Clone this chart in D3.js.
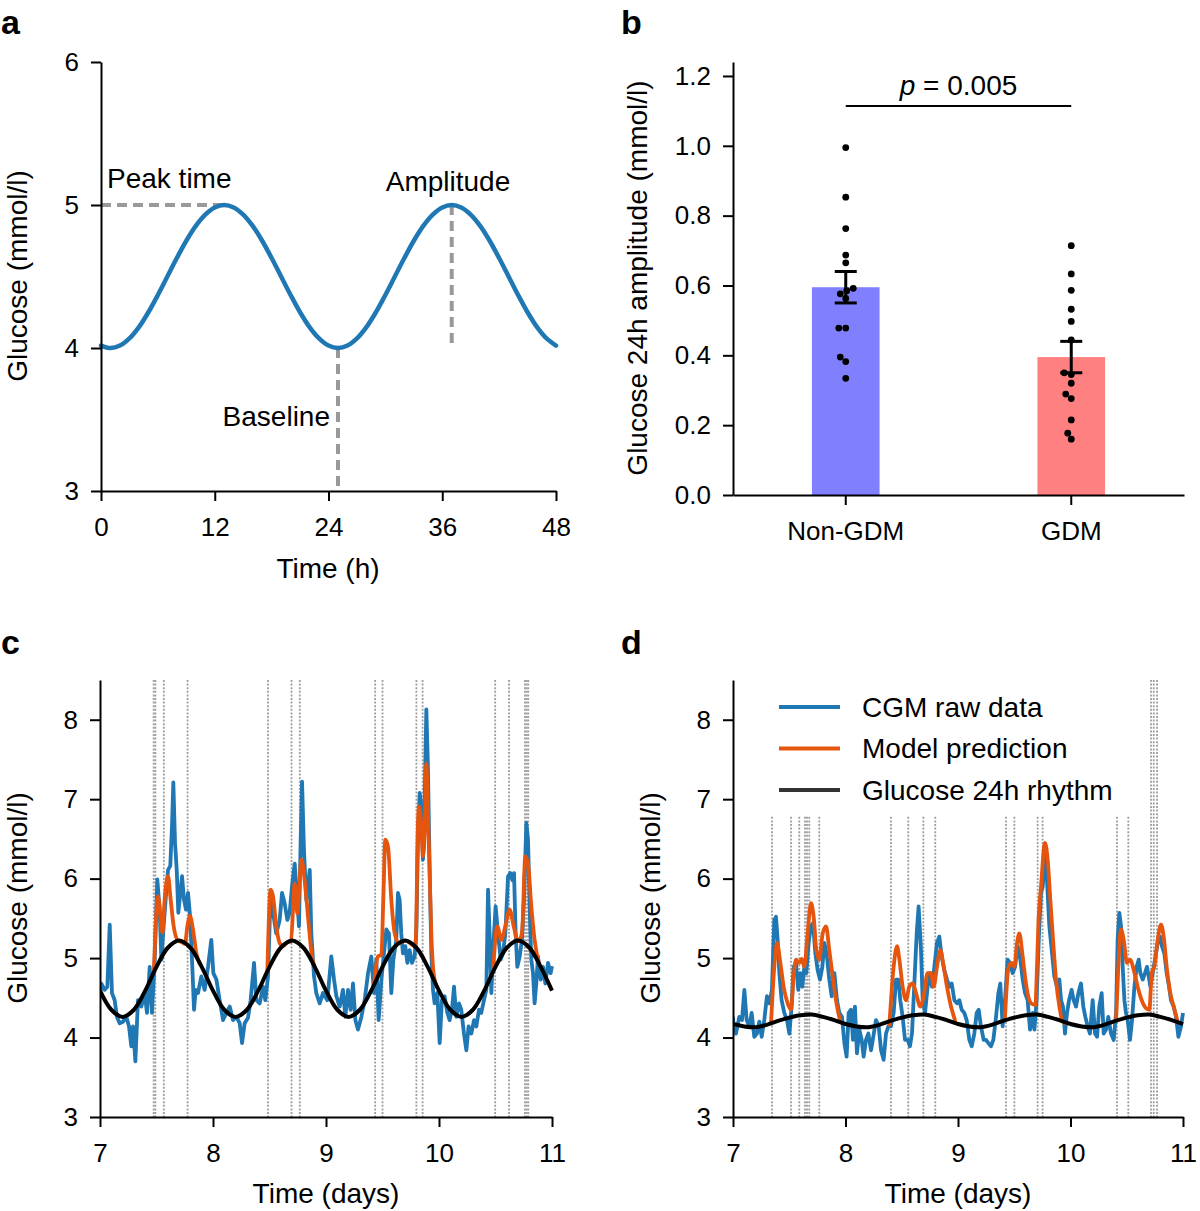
<!DOCTYPE html>
<html><head><meta charset="utf-8">
<script src="https://cdn.jsdelivr.net/npm/d3@7"></script>
<style>
body{margin:0;background:#fff;}
svg text{font-family:"Liberation Sans",Arial,Helvetica,sans-serif;fill:#000;}
</style></head><body>
<svg id="fig" width="1200" height="1211"></svg>
<script>
// ---------- Panel a ----------
const hoursA = [0,1,2,3,4,5,6,7,8,9,10,11,12,13,14,15,16,17,18,19,20,21,22,23,24,25,26,27,28,29,30,31,32,33,34,35,36,37,38,39,40,41,42,43,44,45,46,47,48];
const glucoseA = [4.017,4.000,4.017,4.067,4.146,4.250,4.371,4.500,4.629,4.750,4.854,4.933,4.983,5.000,4.983,4.933,4.854,4.750,4.629,4.500,4.371,4.250,4.146,4.067,4.017,4.000,4.017,4.067,4.146,4.250,4.371,4.500,4.629,4.750,4.854,4.933,4.983,5.000,4.983,4.933,4.854,4.750,4.629,4.500,4.371,4.250,4.146,4.067,4.017];
const ticksAx = [0,12,24,36,48];
const ticksAy = [3,4,5,6];
const peakTime = 13, peakValue = 5, baseTime = 25, baseValue = 4, ampTime = 37;

// ---------- Panel b ----------
const groupsB = ["Non-GDM","GDM"];
const meansB = [0.595, 0.395];
const semB = [0.045, 0.045];
const pointsNonGDM = [0.995,0.853,0.763,0.687,0.665,0.592,0.585,0.576,0.563,0.478,0.478,0.395,0.382,0.334];
const pointsGDM = [0.714,0.633,0.586,0.532,0.497,0.444,0.350,0.345,0.320,0.289,0.276,0.215,0.177,0.160];
const ticksBy = [0.0,0.2,0.4,0.6,0.8,1.0,1.2];
const pBracket = 1.114, pLabel = "0.005";

// ---------- Panels c & d ----------
const ticksDays = [7,8,9,10,11];
const ticksGlu = [3,4,5,6,7,8];
const rhythmTime = [7.0,7.1,7.2,7.3,7.4,7.5,7.6,7.7,7.8,7.9,8.0,8.1,8.2,8.3,8.4,8.5,8.6,8.7,8.8,8.9,9.0,9.1,9.2,9.3,9.4,9.5,9.6,9.7,9.8,9.9,10.0,10.1,10.2,10.3,10.4,10.5,10.6,10.7,10.8,10.9,11.0];
const rhythmC = [4.59,4.35,4.26,4.35,4.59,4.89,5.13,5.22,5.13,4.89,4.59,4.35,4.26,4.35,4.59,4.89,5.13,5.22,5.13,4.89,4.59,4.35,4.26,4.35,4.59,4.89,5.13,5.22,5.13,4.89,4.59,4.35,4.26,4.35,4.59,4.89,5.13,5.22,5.13,4.89,4.59];
const rhythmD = [4.17,4.14,4.13,4.16,4.21,4.25,4.28,4.29,4.26,4.22,4.17,4.14,4.13,4.16,4.21,4.25,4.28,4.29,4.26,4.22,4.17,4.14,4.13,4.16,4.21,4.25,4.28,4.29,4.26,4.22,4.17,4.14,4.13,4.16,4.21,4.25,4.28,4.29,4.26,4.22,4.17];

const cgmC = [[7.000,4.56],[7.012,4.68],[7.041,4.60],[7.065,4.64],[7.086,5.42],[7.106,4.56],[7.130,4.47],[7.150,4.26],[7.174,4.18],[7.204,4.20],[7.233,4.26],[7.257,4.14],[7.277,3.89],[7.292,4.14],[7.313,3.70],[7.336,4.47],[7.366,4.39],[7.395,4.56],[7.416,4.31],[7.440,4.89],[7.460,4.31],[7.484,4.98],[7.507,5.99],[7.528,5.61],[7.543,4.98],[7.563,5.40],[7.581,5.74],[7.602,6.11],[7.622,6.16],[7.637,6.66],[7.649,7.21],[7.664,6.45],[7.679,6.11],[7.693,5.57],[7.711,5.82],[7.726,6.03],[7.743,5.74],[7.761,5.61],[7.779,5.82],[7.797,5.53],[7.817,4.89],[7.832,4.35],[7.847,4.60],[7.867,4.56],[7.897,4.77],[7.926,4.60],[7.956,4.89],[7.985,5.23],[8.003,4.81],[8.030,4.73],[8.059,4.47],[8.089,4.22],[8.118,4.31],[8.148,4.39],[8.177,4.22],[8.207,4.26],[8.236,4.18],[8.257,3.93],[8.280,4.18],[8.310,4.25],[8.333,4.47],[8.363,4.94],[8.384,4.47],[8.413,4.43],[8.443,4.64],[8.463,4.47],[8.487,4.77],[8.510,5.82],[8.531,5.57],[8.560,5.31],[8.590,5.48],[8.611,5.82],[8.634,5.69],[8.658,5.48],[8.678,5.57],[8.699,5.90],[8.723,6.19],[8.746,5.73],[8.761,5.40],[8.776,6.49],[8.788,7.22],[8.805,6.36],[8.826,5.73],[8.841,5.90],[8.856,6.11],[8.870,5.31],[8.894,4.77],[8.914,4.56],[8.944,4.43],[8.973,4.56],[9.012,4.47],[9.047,5.02],[9.071,4.73],[9.092,4.52],[9.121,4.39],[9.150,4.60],[9.171,4.26],[9.195,4.60],[9.218,4.35],[9.239,4.68],[9.260,4.22],[9.283,4.10],[9.313,4.26],[9.342,4.47],[9.372,4.81],[9.401,5.02],[9.425,4.56],[9.445,4.98],[9.466,4.22],[9.490,4.73],[9.513,5.06],[9.534,5.36],[9.557,5.31],[9.578,4.56],[9.596,4.98],[9.622,5.23],[9.637,5.82],[9.652,5.73],[9.666,5.31],[9.681,5.06],[9.702,5.15],[9.720,4.94],[9.740,5.10],[9.761,4.94],[9.784,5.02],[9.799,5.31],[9.814,6.49],[9.829,7.08],[9.843,6.91],[9.858,6.24],[9.873,6.99],[9.888,8.13],[9.902,7.41],[9.917,6.15],[9.932,5.06],[9.947,4.60],[9.961,4.43],[9.985,4.56],[10.006,3.93],[10.026,4.47],[10.050,4.52],[10.074,4.31],[10.094,4.22],[10.115,4.35],[10.133,4.64],[10.153,4.26],[10.177,4.43],[10.197,4.35],[10.221,4.05],[10.242,3.84],[10.262,4.14],[10.286,4.05],[10.310,4.22],[10.330,4.14],[10.354,4.35],[10.374,4.31],[10.398,4.47],[10.419,4.60],[10.434,5.86],[10.448,5.31],[10.463,4.56],[10.484,5.23],[10.501,5.65],[10.522,5.31],[10.546,4.98],[10.566,5.06],[10.587,5.31],[10.611,6.03],[10.631,6.07],[10.649,5.98],[10.664,6.07],[10.678,5.31],[10.693,4.89],[10.714,5.02],[10.734,5.23],[10.752,5.73],[10.773,6.70],[10.788,6.49],[10.802,5.65],[10.817,4.98],[10.832,4.81],[10.846,4.43],[10.861,4.68],[10.876,5.02],[10.900,4.73],[10.920,4.89],[10.941,4.68],[10.965,4.94],[10.988,4.81],[11.000,4.90]];

const modelC = [[7.478,4.86],[7.513,5.78],[7.552,5.32],[7.572,5.74],[7.602,6.03],[7.625,5.74],[7.652,5.40],[7.690,5.22],[7.725,5.20],[7.752,5.18],[7.773,5.40],[7.796,5.53],[7.823,5.36],[7.853,5.06],[7.882,4.93],null,
[8.481,4.83],[8.510,5.86],[8.531,5.78],[8.560,5.40],[8.590,5.19],[8.620,5.15],[8.660,5.20],[8.690,5.21],[8.723,5.94],[8.746,5.56],[8.782,6.24],[8.811,5.98],[8.841,5.52],[8.876,5.02],[8.900,4.89],null,
[9.425,4.67],[9.460,5.02],[9.490,5.04],[9.507,5.73],[9.525,6.49],[9.549,6.40],[9.578,5.73],[9.608,5.31],[9.643,5.19],[9.700,5.22],[9.790,5.15],[9.800,5.50],[9.808,6.32],[9.823,6.91],[9.844,6.66],[9.858,6.28],[9.873,6.57],[9.888,7.45],[9.902,6.87],[9.917,6.07],[9.932,5.31],[9.956,4.77],[9.985,4.63],null,
[10.478,4.82],[10.516,5.40],[10.551,5.23],[10.587,5.40],[10.625,5.61],[10.661,5.40],[10.699,5.21],[10.734,5.31],[10.764,6.28],[10.788,6.19],[10.817,5.65],[10.846,5.23],[10.876,4.98],[10.905,4.87]];

const mealsC = [7.475,7.49,7.565,7.775,8.487,8.695,8.768,9.435,9.50,9.80,9.855,10.497,10.62,10.76,10.775,10.79];

const cgmD = [[7.000,4.26],[7.006,4.10],[7.026,4.05],[7.056,4.26],[7.080,4.22],[7.101,4.60],[7.121,4.22],[7.145,4.14],[7.166,4.31],[7.189,4.01],[7.213,4.05],[7.234,4.20],[7.255,4.01],[7.278,4.22],[7.302,4.52],[7.323,4.43],[7.346,4.60],[7.367,5.48],[7.382,5.52],[7.397,5.23],[7.412,4.81],[7.432,4.47],[7.456,4.31],[7.480,4.22],[7.501,4.05],[7.521,4.39],[7.539,4.89],[7.560,4.94],[7.580,4.60],[7.598,4.81],[7.616,4.64],[7.634,4.89],[7.652,4.81],[7.672,5.19],[7.693,5.40],[7.711,5.44],[7.732,5.06],[7.752,4.85],[7.773,4.73],[7.794,4.89],[7.812,5.19],[7.832,5.06],[7.856,4.73],[7.877,4.52],[7.901,4.81],[7.924,4.47],[7.945,4.31],[7.969,4.26],[7.990,3.93],[8.010,3.76],[8.028,4.31],[8.049,4.35],[8.066,3.97],[8.084,4.39],[8.102,3.80],[8.123,4.10],[8.144,3.97],[8.161,3.76],[8.182,3.97],[8.203,4.05],[8.227,3.84],[8.247,4.01],[8.271,4.22],[8.295,4.14],[8.316,3.84],[8.339,3.72],[8.360,4.05],[8.381,4.14],[8.404,4.14],[8.428,4.31],[8.449,4.73],[8.470,4.73],[8.487,4.47],[8.508,4.26],[8.529,3.97],[8.553,3.97],[8.573,3.89],[8.591,4.05],[8.612,4.68],[8.633,5.31],[8.650,5.65],[8.671,5.10],[8.686,4.47],[8.707,4.31],[8.730,4.64],[8.751,4.81],[8.769,4.64],[8.790,4.89],[8.813,5.19],[8.834,5.27],[8.855,5.02],[8.878,4.85],[8.902,4.73],[8.923,4.64],[8.944,4.68],[8.968,4.47],[8.991,4.43],[9.012,4.47],[9.033,4.35],[9.056,4.31],[9.077,4.22],[9.101,3.97],[9.122,3.89],[9.145,4.05],[9.166,4.31],[9.184,4.35],[9.204,4.14],[9.228,3.97],[9.249,3.97],[9.270,3.93],[9.293,3.89],[9.314,3.97],[9.338,4.26],[9.359,4.56],[9.376,4.68],[9.397,4.14],[9.418,4.47],[9.441,4.98],[9.462,4.94],[9.486,4.81],[9.507,4.89],[9.530,5.15],[9.554,4.98],[9.575,4.73],[9.596,4.56],[9.619,4.47],[9.640,4.10],[9.664,4.31],[9.679,4.10],[9.699,4.47],[9.720,5.31],[9.738,5.82],[9.753,5.90],[9.773,6.28],[9.791,5.98],[9.812,5.40],[9.833,5.10],[9.856,4.77],[9.880,4.64],[9.901,4.73],[9.916,4.47],[9.933,4.39],[9.951,4.05],[9.969,4.31],[9.987,4.47],[10.010,4.60],[10.028,4.47],[10.049,4.39],[10.070,4.56],[10.093,4.68],[10.114,4.39],[10.132,4.26],[10.153,4.14],[10.173,4.05],[10.197,4.47],[10.218,4.05],[10.236,4.01],[10.256,4.39],[10.277,4.56],[10.295,4.05],[10.316,4.10],[10.336,4.26],[10.360,4.05],[10.384,3.97],[10.405,4.31],[10.419,5.23],[10.434,5.57],[10.449,5.40],[10.464,4.89],[10.479,4.47],[10.493,4.31],[10.508,4.22],[10.529,3.97],[10.547,4.22],[10.568,4.64],[10.588,4.89],[10.606,4.98],[10.621,4.81],[10.642,4.73],[10.662,4.81],[10.680,4.89],[10.695,4.77],[10.710,4.64],[10.730,4.81],[10.751,4.98],[10.775,5.19],[10.796,5.27],[10.813,5.15],[10.834,5.06],[10.855,4.81],[10.876,4.64],[10.893,4.47],[10.917,4.39],[10.938,4.26],[10.959,4.01],[10.982,4.14],[11.000,4.31]];

const modelD = [[7.338,4.18],[7.367,4.89],[7.391,5.19],[7.421,4.94],[7.450,4.64],[7.486,4.43],[7.515,4.35],[7.539,4.77],[7.560,4.98],[7.589,4.94],[7.610,4.99],[7.634,4.89],[7.663,5.31],[7.693,5.69],[7.717,5.52],[7.741,5.10],[7.767,4.98],[7.797,5.31],[7.827,5.40],[7.856,5.10],[7.886,4.77],[7.915,4.47],[7.954,4.20],null,
[8.390,4.16],[8.428,4.89],[8.458,5.15],[8.479,4.98],[8.508,4.64],[8.538,4.47],[8.567,4.64],[8.597,4.68],[8.627,4.56],[8.665,4.39],[8.695,4.52],[8.730,4.81],[8.760,4.81],[8.784,4.64],[8.813,4.89],[8.843,5.10],[8.873,4.89],[8.902,4.64],[8.938,4.39],[8.973,4.22],null,
[9.418,4.26],[9.450,4.89],[9.477,4.94],[9.501,4.89],[9.525,5.19],[9.545,5.31],[9.575,5.02],[9.604,4.68],[9.634,4.47],[9.660,4.42],[9.688,4.41],[9.700,4.80],[9.715,5.45],[9.738,5.90],[9.773,6.45],[9.797,6.24],[9.821,5.73],[9.845,5.23],[9.871,4.73],[9.901,4.39],[9.930,4.20],[9.960,4.18],null,
[10.405,4.21],[10.425,4.89],[10.449,5.36],[10.473,5.23],[10.502,4.94],[10.532,4.98],[10.562,4.85],[10.597,4.64],[10.633,4.47],[10.671,4.37],[10.701,4.35],[10.722,4.81],[10.745,4.89],[10.775,5.23],[10.805,5.42],[10.828,5.27],[10.858,4.85],[10.887,4.56],[10.917,4.39],[10.953,4.20]];

const mealsD = [7.347,7.516,7.589,7.640,7.658,7.678,7.767,8.404,8.558,8.692,8.798,9.427,9.501,9.708,9.752,10.413,10.514,10.716,10.740,10.769];

const legendLabels = ["CGM raw data","Model prediction","Glucose 24h rhythm"];
const colBlue = "#1f77b4", colOrange = "#e6550d", colBlack = "#000000";

// ---------- drawing ----------
const svg = d3.select("#fig");
svg.append("rect").attr("width",1200).attr("height",1211).attr("fill","#fff");
const FONT = 26, TITLE = 28;
const intFmt = d3.format("d");

function styleAxis(g){
  g.attr("font-size",FONT).attr("font-family",null);
  g.select(".domain").attr("stroke","#000").attr("stroke-width",2);
  g.selectAll(".tick line").attr("stroke","#000").attr("stroke-width",2);
  g.selectAll(".tick text").attr("fill","#000");
}
function panelLabel(t,x,y){
  svg.append("text").attr("x",x).attr("y",y).attr("font-size",34).attr("font-weight","bold").text(t);
}
function yTitle(t,x,cy){
  svg.append("text").attr("transform",`translate(${x},${cy}) rotate(-90)`).attr("text-anchor","middle").attr("font-size",TITLE).text(t);
}
function xTitle(t,cx,y){
  svg.append("text").attr("x",cx).attr("y",y).attr("text-anchor","middle").attr("font-size",TITLE).text(t);
}

// Panel a
{
  const x = d3.scaleLinear([0,48],[101,556]);
  const y = d3.scaleLinear([3,6],[491,62]);
  const g = svg.append("g");
  const dash = {stroke:"#999", w:4, da:"10,6"};
  g.append("line").attr("x1",x(0)).attr("x2",x(peakTime)).attr("y1",y(peakValue)).attr("y2",y(peakValue))
    .attr("stroke",dash.stroke).attr("stroke-width",dash.w).attr("stroke-dasharray",dash.da);
  g.append("line").attr("x1",x(baseTime)).attr("x2",x(baseTime)).attr("y1",y(baseValue)).attr("y2",y(3))
    .attr("stroke",dash.stroke).attr("stroke-width",dash.w).attr("stroke-dasharray",dash.da);
  g.append("line").attr("x1",x(ampTime)).attr("x2",x(ampTime)).attr("y1",y(peakValue)).attr("y2",y(baseValue))
    .attr("stroke",dash.stroke).attr("stroke-width",dash.w).attr("stroke-dasharray",dash.da);
  const line = d3.line().x((d,i)=>x(hoursA[i])).y(d=>y(d)).curve(d3.curveCatmullRom);
  g.append("path").datum(glucoseA).attr("d",line).attr("fill","none").attr("stroke",colBlue).attr("stroke-width",4.5).attr("stroke-linecap","round");
  g.append("g").attr("transform","translate(0,491)").call(d3.axisBottom(x).tickValues(ticksAx).tickFormat(intFmt).tickSize(10).tickSizeOuter(0).tickPadding(17)).call(styleAxis);
  g.append("g").attr("transform","translate(101,0)").call(d3.axisLeft(y).tickValues(ticksAy).tickFormat(intFmt).tickSize(10).tickSizeOuter(0).tickPadding(12)).call(styleAxis);
  g.append("text").attr("x",107).attr("y",188).attr("font-size",TITLE).text("Peak time");
  g.append("text").attr("x",448).attr("y",191).attr("text-anchor","middle").attr("font-size",TITLE).text("Amplitude");
  g.append("text").attr("x",330).attr("y",426).attr("text-anchor","end").attr("font-size",TITLE).text("Baseline");
  xTitle("Time (h)",328,578);
  yTitle("Glucose (mmol/l)",27,276);
  panelLabel("a",1,34);
}

// Panel b
{
  const x = d3.scaleBand(groupsB,[733,1184]).paddingInner(0.7).paddingOuter(0.35);
  const y = d3.scaleLinear([0,1.24],[495,62]);
  const g = svg.append("g");
  const barCols = ["#8080ff","#ff8080"];
  g.selectAll("rect.bar").data(groupsB).join("rect").attr("class","bar")
    .attr("x",d=>x(d)).attr("width",x.bandwidth())
    .attr("y",(d,i)=>y(meansB[i])).attr("height",(d,i)=>y(0)-y(meansB[i]))
    .attr("fill",(d,i)=>barCols[i]);
  const r = 3.4;
  function swarm(vals){
    const order = vals.map((v,i)=>({v,i})).sort((a,b)=>a.v-b.v);
    const placed = [], out = [];
    for(const p of order){
      const py = y(p.v);
      let dx = 0;
      for(let k=0;k<100;k++){
        const cand = (k===0)?0:((k%2===1)?-1:1)*Math.ceil(k/2)*0.5;
        if(placed.every(q=>Math.hypot(q.dx-cand,q.py-py)>=2*r-0.01)){dx=cand;break;}
      }
      placed.push({dx,py}); out[p.i]={dx,py};
    }
    return out;
  }
  [pointsNonGDM,pointsGDM].forEach((pts,gi)=>{
    const cx = x(groupsB[gi])+x.bandwidth()/2;
    const sw = swarm(pts);
    g.selectAll(null).data(sw).join("circle").attr("cx",d=>cx+d.dx).attr("cy",d=>d.py).attr("r",r).attr("fill","#000");
    const m = meansB[gi], s = semB[gi];
    g.append("line").attr("x1",cx).attr("x2",cx).attr("y1",y(m-s)).attr("y2",y(m+s)).attr("stroke","#000").attr("stroke-width",3);
    [m-s,m+s].forEach(v=>g.append("line").attr("x1",cx-11).attr("x2",cx+11).attr("y1",y(v)).attr("y2",y(v)).attr("stroke","#000").attr("stroke-width",3));
  });
  const c0 = x(groupsB[0])+x.bandwidth()/2, c1 = x(groupsB[1])+x.bandwidth()/2;
  g.append("line").attr("x1",c0).attr("x2",c1).attr("y1",y(pBracket)).attr("y2",y(pBracket)).attr("stroke","#000").attr("stroke-width",2);
  const pt = g.append("text").attr("x",(c0+c1)/2).attr("y",y(pBracket)-11).attr("text-anchor","middle").attr("font-size",TITLE);
  pt.append("tspan").attr("font-style","italic").text("p");
  pt.append("tspan").text(" = "+pLabel);
  g.append("g").attr("transform","translate(0,495)").call(d3.axisBottom(x).tickSize(10).tickSizeOuter(0).tickPadding(17)).call(styleAxis);
  g.append("g").attr("transform","translate(733,0)").call(d3.axisLeft(y).tickValues(ticksBy).tickFormat(d3.format(".1f")).tickSize(10).tickSizeOuter(0).tickPadding(12)).call(styleAxis);
  g.selectAll("g.tick text").attr("font-size",FONT);
  yTitle("Glucose 24h amplitude (mmol/l)",647,278);
  panelLabel("b",621,34);
}

// Panels c & d
function seriesPanel(opts){
  const x = d3.scaleLinear([7,11],[opts.x0,opts.x1]);
  const y = d3.scaleLinear([3,8.5],[1117,680]);
  const g = svg.append("g");
  const clipId = "clip"+opts.id;
  svg.append("clipPath").attr("id",clipId).append("rect").attr("x",opts.x0).attr("y",676).attr("width",opts.x1-opts.x0+4).attr("height",441);
  g.selectAll("line.meal").data(opts.meals).join("line").attr("class","meal")
    .attr("x1",d=>x(d)).attr("x2",d=>x(d)).attr("y1",680).attr("y2",1117)
    .attr("stroke","#9e9e9e").attr("stroke-width",1.8).attr("stroke-dasharray","2,1.6");
  if(opts.legend){
    g.append("rect").attr("x",765).attr("y",676).attr("width",375).attr("height",140).attr("fill","#fff");
  }
  const gl = g.append("g").attr("clip-path",`url(#${clipId})`);
  const lineRaw = d3.line().x(d=>x(d[0])).y(d=>y(d[1]));
  const lineModel = d3.line().defined(d=>d!==null).x(d=>x(d[0])).y(d=>y(d[1])).curve(d3.curveMonotoneX);
  const lineRhythm = d3.line().x((d,i)=>x(rhythmTime[i])).y(d=>y(d)).curve(d3.curveCatmullRom);
  gl.append("path").datum(opts.raw).attr("d",lineRaw).attr("fill","none").attr("stroke",colBlue).attr("stroke-width",3.8).attr("stroke-linejoin","round");
  gl.append("path").datum(opts.model).attr("d",lineModel).attr("fill","none").attr("stroke",colOrange).attr("stroke-width",3.8).attr("stroke-linejoin","round").attr("stroke-linecap","round");
  gl.append("path").datum(opts.rhythm).attr("d",lineRhythm).attr("fill","none").attr("stroke",colBlack).attr("stroke-width",4);
  g.append("g").attr("transform","translate(0,1117)").call(d3.axisBottom(x).tickValues(ticksDays).tickFormat(intFmt).tickSize(10).tickSizeOuter(0).tickPadding(17)).call(styleAxis);
  g.append("g").attr("transform",`translate(${opts.x0},0)`).call(d3.axisLeft(y).tickValues(ticksGlu).tickFormat(intFmt).tickSize(10).tickSizeOuter(0).tickPadding(12)).call(styleAxis);
  xTitle("Time (days)",(opts.x0+opts.x1)/2,1203);
  yTitle("Glucose (mmol/l)",opts.x0-73,898);
  panelLabel(opts.id,opts.lx,654);
  if(opts.legend){
    const cols=[colBlue,colOrange,"#333"];
    legendLabels.forEach((t,i)=>{
      const yy = 707+i*41.5;
      g.append("line").attr("x1",779).attr("x2",840).attr("y1",yy).attr("y2",yy).attr("stroke",cols[i]).attr("stroke-width",3.8);
      g.append("text").attr("x",862).attr("y",yy).attr("dy","0.35em").attr("font-size",TITLE).text(t);
    });
  }
}
seriesPanel({id:"c",x0:100,x1:552,raw:cgmC,model:modelC,rhythm:rhythmC,meals:mealsC,lx:1,legend:false});
seriesPanel({id:"d",x0:733,x1:1183,raw:cgmD,model:modelD,rhythm:rhythmD,meals:mealsD,lx:621,legend:true});
</script>
</body></html>
